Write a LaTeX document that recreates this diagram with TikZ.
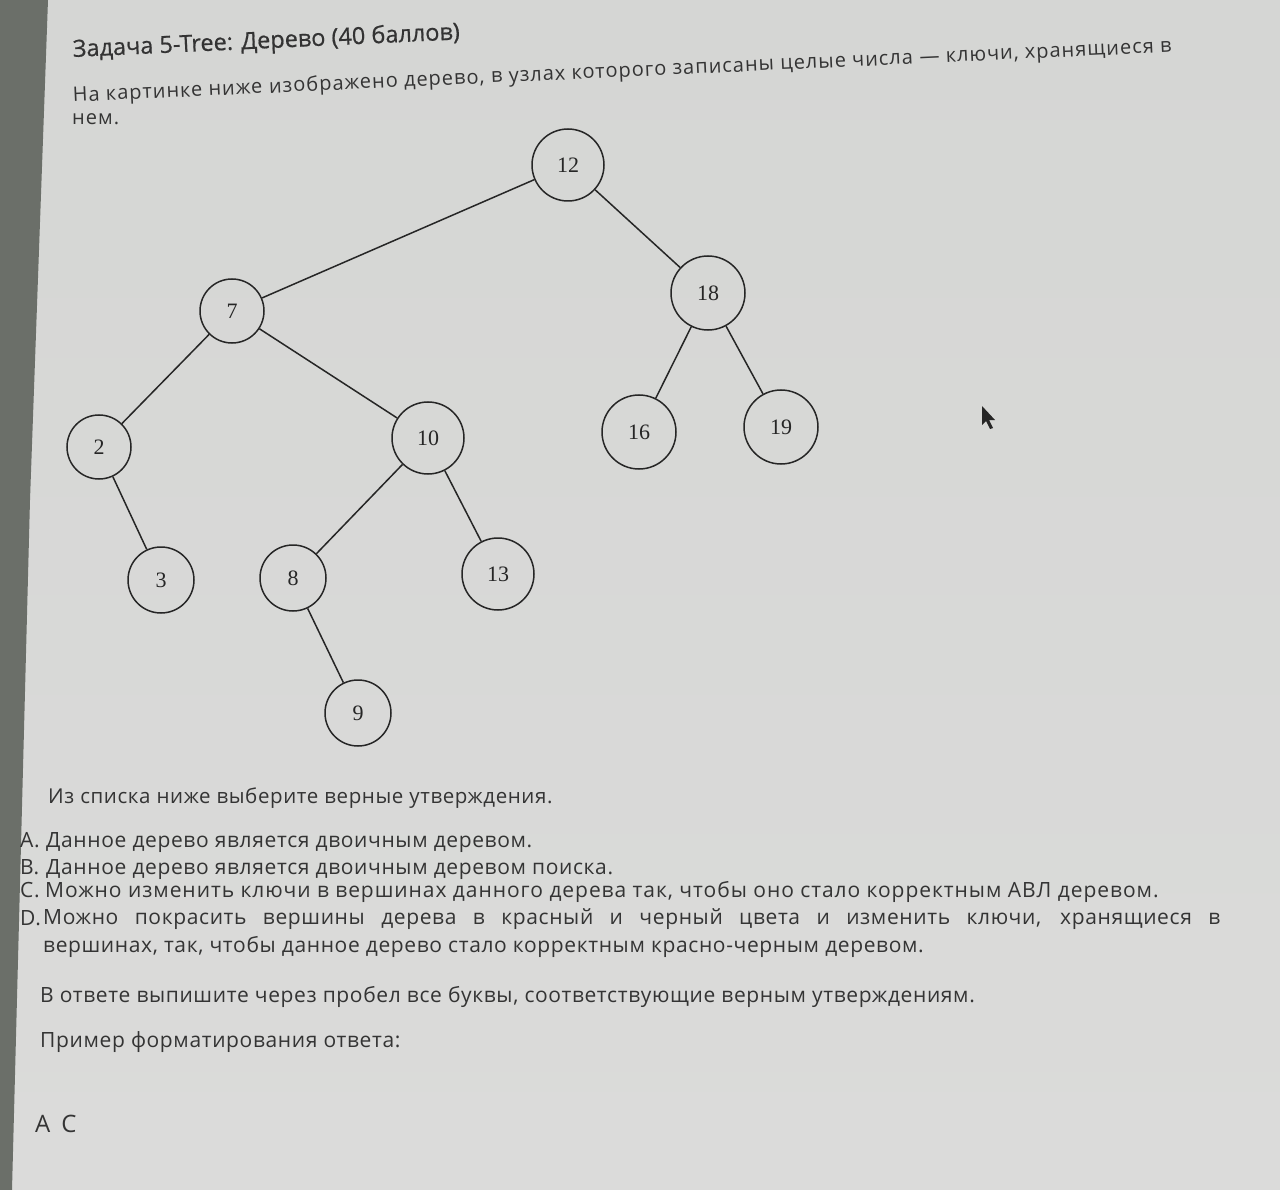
\documentclass[tikz,border=0pt]{standalone}
\usepackage{fontspec}
\usetikzlibrary{calc}
\setmainfont{Open Sans}
\newfontfamily\treefont{Liberation Serif}
\definecolor{screen}{HTML}{D5D6D4}
\definecolor{screenlo}{HTML}{DBDBDA}
\definecolor{bezel}{HTML}{6B6F69}
\definecolor{ink}{HTML}{343434}
\tikzset{
  tnode/.style={draw=black!85, line width=1.5pt, circle, minimum size=#1, inner sep=0pt, font=\treefont\fontsize{22}{22}\selectfont, text=black!85},
  tnode/.default=70pt,
  tedge/.style={draw=black!85, line width=1.5pt},
  txt/.style={anchor=base west, inner sep=0pt, text=ink, font=\fontsize{21}{24}\selectfont\addfontfeatures{LetterSpace=3}},
  introtxt/.style={txt, rotate=2.6, font=\fontsize{20}{23}\selectfont\addfontfeatures{LetterSpace=5}},
  titletxt/.style={txt, rotate=2.6, font=\fontsize{23.5}{26}\selectfont\addfontfeatures{FakeBold=0.6}, text=black!80},
}
\begin{document}
\begin{tikzpicture}[x=1pt,y=-1pt]
\useasboundingbox (0,0) rectangle (1280,1190);
\shade[top color=screen, bottom color=screenlo] (0,0) rectangle (1280,1190);
\fill[bezel] (0,0) -- (48,0) -- (30,500) -- (12,1190) -- (0,1190) -- cycle;

% header (photo tilted)
\node[titletxt] (title) at (73,57) {Задача 5-Tree: Дерево (40 баллов)};
\node[introtxt] (intro) at (73,102) {На картинке ниже};
\node[introtxt] (introa) at ($(intro.base east)+(-2.6:6.3)$) {изображено дерево,};
\node[introtxt] (introb) at ($(introa.base east)+(-2.6:6.3)$) {в узлах которого записаны целые числа};
\node[introtxt] (introc) at ($(introb.base east)+(-2.6:6.3)$) {— ключи, хранящиеся в};
\node[txt, font=\fontsize{20}{23}\selectfont\addfontfeatures{LetterSpace=5}] (intro2) at (72,125) {нем.};

% tree
\node[tnode=72pt] (n12) at (568,165) {12};
\node[tnode=64pt] (n7) at (232,311) {7};
\node[tnode=74pt] (n18) at (708,293) {18};
\node[tnode=64pt] (n2) at (99,447) {2};
\node[tnode=72pt] (n10) at (428,438) {10};
\node[tnode=74pt] (n16) at (639,432) {16};
\node[tnode=74pt] (n19) at (781,427) {19};
\node[tnode=66pt] (n3) at (161,580) {3};
\node[tnode=66pt] (n8) at (293,578) {8};
\node[tnode=72pt] (n13) at (498,574) {13};
\node[tnode=66pt] (n9) at (358,713) {9};
\foreach \a/\b in {n12/n7, n12/n18, n7/n2, n7/n10, n2/n3, n10/n8, n10/n13, n8/n9, n18/n16, n18/n19}
  \draw[tedge] (\a) -- (\b);

% mouse cursor
\fill[black!85] (982,406) -- (982,425) -- (986,421) -- (990,429) -- (993,428) -- (989,420) -- (995,420) -- cycle;

% questions
\node[txt, font=\fontsize{20.5}{24}\selectfont\addfontfeatures{LetterSpace=3}] (q) at (48,803) {Из списка ниже выберите верные утверждения.};
\node[txt] (la) at (20,847) {A.};
\node[txt] (ta) at (46,847) {Данное дерево является двоичным деревом.};
\node[txt] (lb) at (20,874) {B.};
\node[txt] (tb) at (46,874) {Данное дерево является двоичным деревом поиска.};
\node[txt] (lc) at (20,897) {C.};
\node[txt, font=\fontsize{21}{24}\selectfont\addfontfeatures{LetterSpace=4.5}] (tc) at (45,897) {Можно изменить ключи в вершинах данного дерева так, чтобы оно стало корректным АВЛ деревом.};
\node[txt] (ld) at (20,925) {D.};
\node[txt, anchor=north west, text width=1177pt, align=justify, font=\fontsize{21}{28}\selectfont\addfontfeatures{LetterSpace=3}] (td) at (43,908) {Можно покрасить вершины дерева в красный и черный цвета и изменить ключи, хранящиеся в\linebreak вершинах, так, чтобы данное дерево стало корректным красно-черным деревом.};
\node[txt] (ans) at (40,1002) {В ответе выпишите через пробел все буквы, соответствующие верным утверждениям.};
\node[txt] (ex) at (40,1047) {Пример форматирования ответа:};
\node[txt, font=\fontsize{24}{28}\selectfont\addfontfeatures{LetterSpace=20}] (ac) at (35,1132) {A C};
\end{tikzpicture}
\end{document}
